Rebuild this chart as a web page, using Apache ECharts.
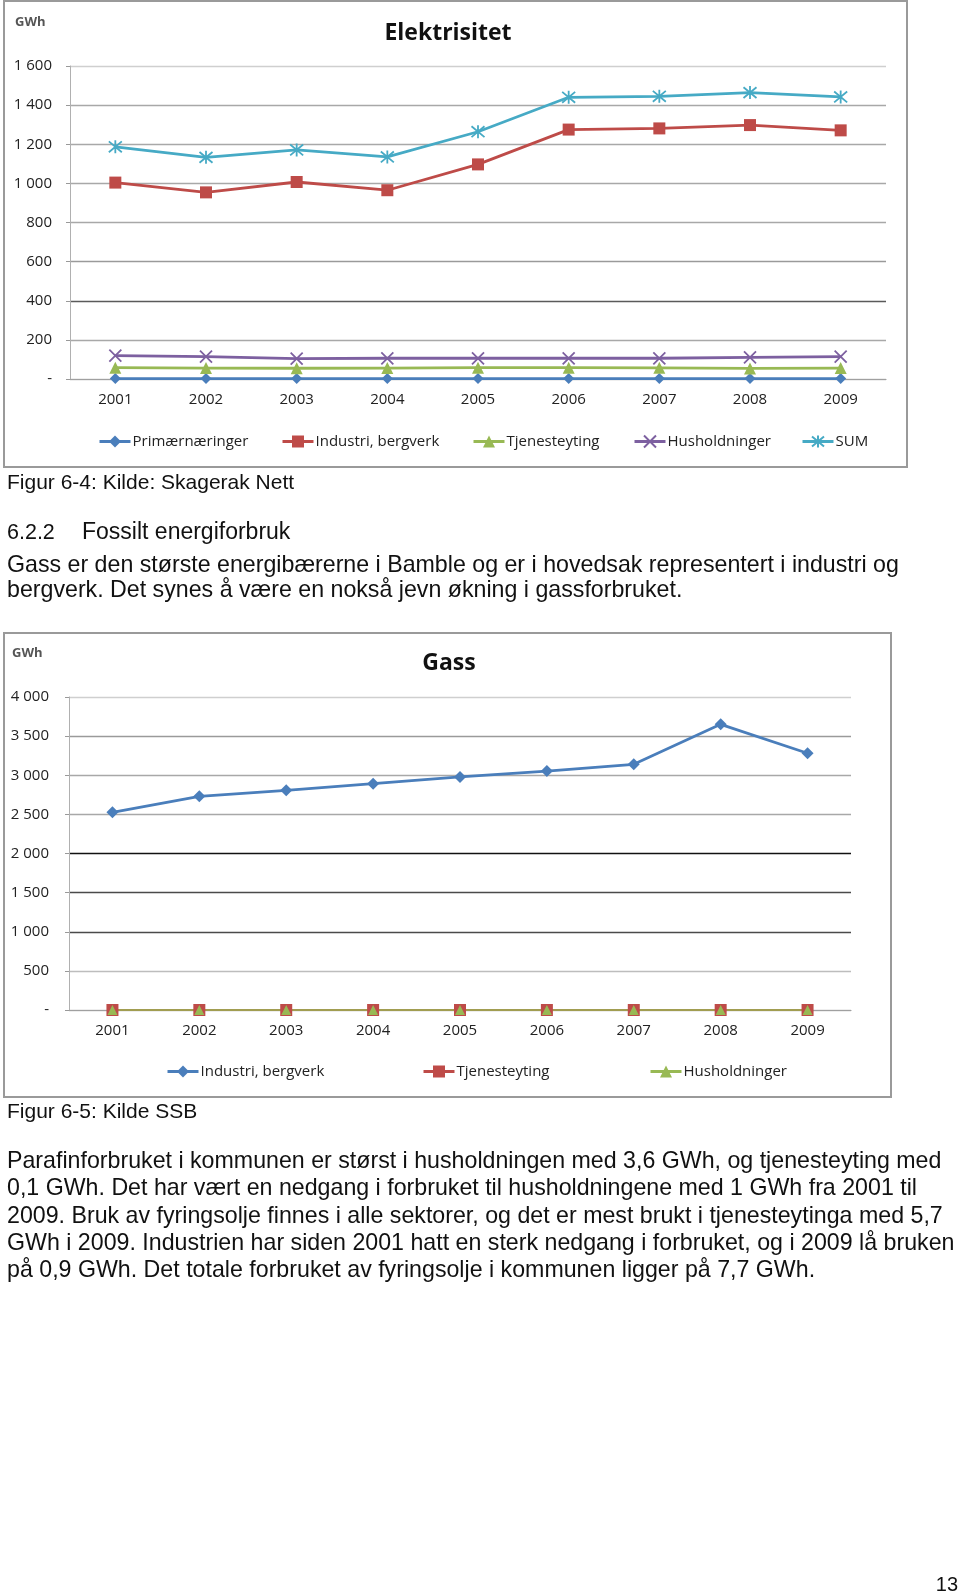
<!DOCTYPE html>
<html><head><meta charset="utf-8">
<script src="https://cdn.jsdelivr.net/npm/echarts@6/dist/echarts.min.js"></script>
<style>html,body{margin:0;padding:0;background:#fff}#c{width:960px;height:1596px}</style>
</head><body><div id="c"></div>
<script>
// ---- data ----
const years = ['2001','2002','2003','2004','2005','2006','2007','2008','2009'];
const elPrimar    = [2, 2, 2, 2, 2, 2, 2, 2, 2];
const elIndustri  = [1004, 954, 1007, 965, 1097, 1275, 1281, 1298, 1271];
const elTjeneste  = [58, 56, 55, 56, 58, 58, 57, 54, 56];
const elHushold   = [119, 114, 104, 106, 106, 106, 106, 111, 114];
const elSum       = [1187, 1133, 1171, 1135, 1264, 1440, 1445, 1464, 1442];
const gasIndustri = [2527, 2731, 2808, 2892, 2978, 3054, 3140, 3651, 3281];
const gasTjeneste = [0, 0, 0, 0, 0, 0, 0, 0, 0];
const gasHushold  = [0, 0, 0, 0, 0, 0, 0, 0, 0];
const elNames  = ['Primærnæringer', 'Industri, bergverk', 'Tjenesteyting', 'Husholdninger', 'SUM'];
const gasNames = ['Industri, bergverk', 'Tjenesteyting', 'Husholdninger'];
const elTitle = 'Elektrisitet', gasTitle = 'Gass', unit = 'GWh';
const textLines = [
  'Figur 6-4: Kilde: Skagerak Nett',
  '6.2.2',
  'Fossilt energiforbruk',
  'Gass er den største energibærerne i Bamble og er i hovedsak representert i industri og',
  'bergverk. Det synes å være en nokså jevn økning i gassforbruket.',
  'Figur 6-5: Kilde SSB',
  'Parafinforbruket i kommunen er størst i husholdningen med 3,6 GWh, og tjenesteyting med',
  '0,1 GWh. Det har vært en nedgang i forbruket til husholdningene med 1 GWh fra 2001 til',
  '2009. Bruk av fyringsolje finnes i alle sektorer, og det er mest brukt i tjenesteytinga med 5,7',
  'GWh i 2009. Industrien har siden 2001 hatt en sterk nedgang i forbruket, og i 2009 lå bruken',
  'på 0,9 GWh. Det totale forbruket av fyringsolje i kommunen ligger på 7,7 GWh.',
  '13'
];

// ---- layout ----
const B = 23.2;
const textLayout = [ // [x, y, fontSize, align]
  [7, 483, 21, 'left'], [7, 533, 21.5, 'left'], [82, 533, 23, 'left'], [7, 566, B, 'left'], [7, 591, B, 'left'],
  [7, 1112, 21, 'left'], [7, 1162, B, 'left'], [7, 1189, B, 'left'], [7, 1217, B, 'left'], [7, 1244, B, 'left'], [7, 1271, B, 'left'],
  [958, 1585, 20, 'right']
];
function bodyText(s, x, y, fs, align) {
  return { type: 'text', x: x, y: y,
    style: { text: s, font: fs + 'px "Liberation Sans", Arial, sans-serif', fill: '#111', verticalAlign: 'middle', align: align } };
}
const FF = '"Open Sans", sans-serif';
const fmt = v => v === 0 ? '-' : (v >= 1000 ? Math.floor(v / 1000) + ' ' + String(v % 1000).padStart(3, '0') : String(v));

const C = { blue: '#4A7EBB', red: '#BE4B48', green: '#98B954', purple: '#7D60A0', cyan: '#46AAC5' };
const xSym = 'path://M0,0L10,10M10,0L0,10';
const starSym = 'path://M0,0L10,10M10,0L0,10M5,-1L5,11';

function mk(name, data, color, symbol, size, gi, lw, stroke) {
  return {
    type: 'line', name: name, data: data, xAxisIndex: gi, yAxisIndex: gi,
    symbol: symbol, symbolSize: size, clip: false, z: 3,
    lineStyle: { color: color, width: lw },
    itemStyle: stroke ? { color: color, borderColor: color, borderWidth: 1.8 } : { color: color, borderWidth: 0 },
    emphasis: { disabled: true }
  };
}

const graphics = [
  { type: 'rect', shape: { x: 4, y: 1, width: 903, height: 466 }, style: { fill: null, stroke: '#9a9a9a', lineWidth: 2 } },
  { type: 'rect', shape: { x: 4, y: 633, width: 887, height: 464 }, style: { fill: null, stroke: '#9a9a9a', lineWidth: 2 } },
  { type: 'text', x: 448, y: 33, style: { text: elTitle, font: 'bold 23px ' + FF, fill: '#111', align: 'center', verticalAlign: 'middle' } },
  { type: 'text', x: 449, y: 663, style: { text: gasTitle, font: 'bold 23px ' + FF, fill: '#111', align: 'center', verticalAlign: 'middle' } },
  { type: 'text', x: 15, y: 22, style: { text: unit, font: 'bold 13px ' + FF, fill: '#555', align: 'left', verticalAlign: 'middle' } },
  { type: 'text', x: 12, y: 653, style: { text: unit, font: 'bold 13px ' + FF, fill: '#555', align: 'left', verticalAlign: 'middle' } }
];
textLines.forEach((s, i) => { const L = textLayout[i]; graphics.push(bodyText(s, L[0], L[1], L[2], L[3])); });

function legend(name, label, left, top) {
  return { data: [name], left: left, top: top, padding: 0, itemWidth: 31, itemHeight: 15, itemGap: 0,
    selectedMode: false, formatter: () => label, lineStyle: { width: 3 },
    textStyle: { fontSize: 15, fontFamily: FF, color: '#222', padding: [0, 0, 0, -3] } };
}

const xAxisBase = gi => ({
  gridIndex: gi, type: 'category', data: years, boundaryGap: true,
  axisLine: { lineStyle: { color: '#a0a0a0', width: 1.2 } },
  axisTick: { length: 5, lineStyle: { color: '#a0a0a0' } },
  axisLabel: { margin: 13, fontSize: 15, fontFamily: FF, color: '#222' }
});

const option = {
  animation: false,
  backgroundColor: '#fff',
  grid: [
    { left: 70, top: 66, width: 816, height: 313 },
    { left: 69, top: 697, width: 782, height: 313 }
  ],
  xAxis: [xAxisBase(0), xAxisBase(1)],
  yAxis: [
    { gridIndex: 0, type: 'value', min: 0, max: 1600, interval: 200,
      axisLine: { show: true, lineStyle: { color: '#b0b0b0' } },
      axisTick: { show: true, length: 4, lineStyle: { color: '#999' } },
      axisLabel: { formatter: fmt, margin: 18, fontSize: 15, fontFamily: FF, color: '#222' },
      splitLine: { lineStyle: { width: 1.3, color: ['#bbb', '#a8a8a8', '#5a5a5a', '#9a9a9a', '#a8a8a8', '#a8a8a8', '#a8a8a8', '#a8a8a8', '#cfcfcf'] } } },
    { gridIndex: 1, type: 'value', min: 0, max: 4000, interval: 500,
      axisLine: { show: true, lineStyle: { color: '#b0b0b0' } },
      axisTick: { show: true, length: 4, lineStyle: { color: '#999' } },
      axisLabel: { formatter: fmt, margin: 20, fontSize: 15, fontFamily: FF, color: '#222' },
      splitLine: { lineStyle: { width: 1.3, color: ['#bbb', '#bdbdbd', '#4a4a4a', '#4a4a4a', '#111', '#a8a8a8', '#a8a8a8', '#9a9a9a', '#cfcfcf'] } } }
  ],
  legend: [
    legend('e0', elNames[0], 98, 434),
    legend('e1', elNames[1], 281, 434),
    legend('e2', elNames[2], 472, 434),
    legend('e3', elNames[3], 633, 434),
    legend('e4', elNames[4], 801, 434),
    legend('g0', gasNames[0], 166, 1064),
    legend('g1', gasNames[1], 422, 1064),
    legend('g2', gasNames[2], 649, 1064)
  ],
  series: [
    mk('e0', elPrimar, C.blue, 'diamond', 11, 0, 2.8),
    mk('e1', elIndustri, C.red, 'rect', 12, 0, 2.8),
    mk('e2', elTjeneste, C.green, 'triangle', 12, 0, 2.8),
    mk('e3', elHushold, C.purple, xSym, 12, 0, 2.8, true),
    mk('e4', elSum, C.cyan, starSym, 13, 0, 2.8, true),
    mk('g0', gasIndustri, C.blue, 'diamond', 12, 1, 2.8),
    mk('g1', gasTjeneste, C.red, 'rect', 12, 1, 2),
    mk('g2', gasHushold, C.green, 'triangle', 10, 1, 1.5)
  ],
  graphic: graphics
};
const chart = echarts.init(document.getElementById('c'), null, { renderer: 'canvas' });
chart.setOption(option);
</script>
</body></html>
